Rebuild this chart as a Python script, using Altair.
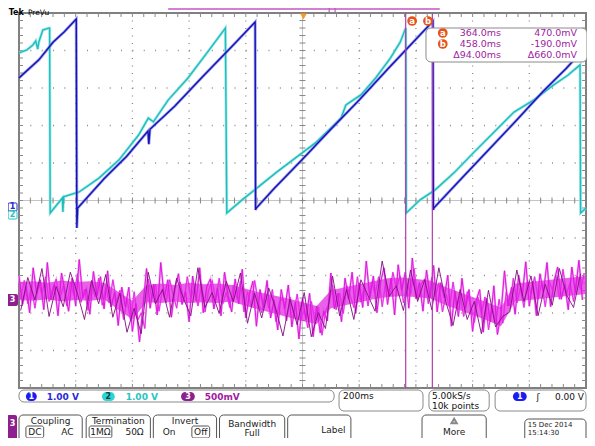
import altair as alt
import numpy as np
import pandas as pd

# ---------------- data ----------------
# time in ms (200 ms/div, trigger at centre); channel 1 & 2 in volts (1 V/div)
ch1_t = [-1000, -930, -880, -840, -798, -796, -793, -700, -620, -545, -542, -538, -450, -350, -250,
         -167, -165.5, -163, -100, 0, 100, 200, 300, 400, 460, 461.5, 463, 550, 650, 750, 850, 930, 1000]
ch1_v = [3.47, 3.95, 4.42, 4.70, 5.04, -0.53, 0.0, 0.78, 1.38, 2.05, 1.70, 2.10, 2.72, 3.52, 4.30,
         4.96, -0.05, 0.0, 0.52, 1.30, 2.10, 2.88, 3.70, 4.50, 4.98, -0.05, 0.0, 0.70, 1.50, 2.30, 3.12, 3.72, 4.30]

ch2_t = [-1000, -972, -951, -941, -934, -930, -916, -895, -892, -890, -847, -845, -843, -788, -718,
         -648, -578, -544, -526, -474, -404, -335, -272, -267, -213, -160, -91, -21, 49, 101,
         136, 153, 206, 258, 310, 345, 364, 366, 415, 467, 537, 606, 676, 746, 815,
         885, 937, 979, 981, 1000]
ch2_v = [4.27, 4.35, 4.48, 4.59, 4.37, 4.56, 4.88, 4.93, 4.93, 0.0, 0.40, 0.03, 0.43, 0.56, 0.93,
         1.41, 2.08, 2.53, 2.43, 3.01, 3.60, 4.29, 4.93, 0.0, 0.35, 0.67, 1.09, 1.49, 1.89, 2.27,
         2.53, 2.88, 3.15, 3.60, 4.13, 4.56, 4.93, 0.0, 0.35, 0.61, 1.09, 1.63, 2.16, 2.69, 3.01,
         3.41, 3.68, 3.95, 0.0, 0.13]

# channel 3 in mV (500 mV/div), samples every 12.5 ms from -1000 ms
ch3a_mv = [320, -60, 180, -170, 430, 80, 270, -130, 500, 0,
           210, -210, 360, 110, -150, 290, -80, 540, 30, 150,
           -190, 380, 60, 310,
           -120, 390, -90, 100, -340, 170, -90, 170, -420, -50, -560, -80,
           420, -110, 210, -200, 500, 30, 270, -230, 150, 350,
           -60, 110, -290, 320, -10, 430, -170, 180, 280, -120,
           160, -210, 370, 60,
           -160, 280, -50, 410, -240, 70, 250, -350, 140, -100,
           260, -240, 0, -400, 140, -120, 200, -360, -30, -520,
           20, -260, 90, -490, -80, -440, -150,
           -280, 360, -120, 90, -290, 290, 10, 370, -180, 230,
           -100, 520, 30, 320, -170, 230, 430,
           -60, 290, -200, 470, 130, 370, -110, 560, 20, 230,
           -150, 400, 30, 460, -160, 230, 30, 330, -350, 120,
           -220, 290, -110, 140, -420, -10, 140, -430, 20, -290, 190, -460, -190,
           390, -80, 170, -190, 330, 50, 510, -80, 250, -210,
           350, 110, 500, -90, 250, 440, 10, 210, -130, 440, 100, 530, 0]
# second bright trace of channel 3, samples every 12.5 ms from -993.75 ms
ch3c_mv = [30, 260, -50, 180, -110, 230, 80, 310, -20, 150,
           280, 0, 190, -80, 240, 60, 350, -30, 140, -140,
           220, 40, 290, -70,
           170, -40, 270, -30, 130, -260,
           10, -270, 110, -270, -170, -380,
           280, 20, 210, -150,
           150, -40, 270, 70, -110, 240, -20, 310, 30, 180,
           -80, 220, -160, 130, 260, 0, 290, -50, 100, -100,
           200, 20, 250, -160, 110, -90, 260, -30, -170, 110,
           -110, 140, -290, -20, 20, -280, 40, -190, 80, -270,
           -130, -370, -20, -280, -90, -470, -150,
           -40, 200, -130,
           90, -180, 190, 50, -100, 310, -30, 190, -80, 240,
           80, 310, -90, 240,
           40, 370, 150, 320, -40, 230,
           80, 420, 10, 210,
           280, -50, 300, 50, 230, -160,
           80, -100, 240, -100, 60, -220, 110, -90, -300, 40,
           -180, 40, -400, -80, -310, 10, -310,
           110, -80, 290,
           -40, 160, -100, 260, 80, 310, 10, 220, -90, 260,
           140, 330, 10, 410, 80, 230, -20, 320, 140, 360]
# darker persistence trace of channel 3, samples every 25 ms from -994 ms
ch3b_mv = [-140, 300, 0, 420, -220, 180, -90, 370, 90, -260,
           260, -50, 340, -230, 90, -430, -110, -450, 370, -50,
           140, -230, 290, 10, -210, 430, -100, 100, -180, 250,
           -20, 360, -310, 90, -240, 160, -120, -480, 10, -330,
           100, -490, -170, -380, 320, -210, 140, -260, 270, 60,
           -150, 520, 50, 190, -140, 400, -20, 270, -130, 430,
           -30, -340, 140, -260, -20, -450, 130, -360, -220, -160,
           400, -20, 320, -210, 210, -70, 420, 70, -100, 350]
# dense core of the channel 3 trace (mV), every 50 ms from -1000 ms
ch3_core_hi = [240, 250, 230, 260, 240, 250, 230, 110, -10, 200, 220, 200, 230, 210, 220, 200, 150, 100,
               60, 20, -30, -80, 130, 170, 210, 250, 290, 300, 280, 260, 180, 110, 40, -30, -100,
               220, 240, 260, 280, 300, 320]
ch3_core_lo = [0, -10, 10, -20, 0, -10, 10, -130, -260, -30, -40, -20, -40, -30, -40, -20, -80, -130,
               -180, -230, -280, -320, -110, -70, -30, 10, 40, 50, 40, 20, -60, -130, -200, -270, -350,
               -20, 0, 20, 40, 60, 80]

cursor_t = [364.0, 458.0]

# channel positions (divisions) and scales
CH1_OFF, CH2_OFF, CH3_OFF = -0.2, -0.333, -2.653
CH3_MV_PER_DIV = 500.0

# ---------------- helpers ----------------
FONT = "DejaVu Sans"
xs = alt.Scale(domain=[-1000, 1000], nice=False, zero=False)
ys = alt.Scale(domain=[-5, 5], nice=False, zero=False)
X = alt.X("t:Q", scale=xs, axis=None)
Y = alt.Y("y:Q", scale=ys, axis=None)


def TX(px):  # reference pixel -> time (ms)
    return (px - 306.0) / 574.0 * 2000.0


def DY(py):  # reference pixel -> divisions
    return (200.5 - py) / 37.5


def segs(rows, color, width=1.0, dash=None, opacity=1.0):
    df = pd.DataFrame(rows, columns=["t", "y", "t2", "y2"])
    kw = dict(color=color, strokeWidth=width, clip=False, opacity=opacity)
    if dash:
        kw["strokeDash"] = dash
    return alt.Chart(df).mark_rule(**kw).encode(x=X, y=Y, x2="t2:Q", y2="y2:Q")


def psegs(rows, color, width=1.0):
    return segs([(TX(a), DY(b), TX(c), DY(d)) for a, b, c, d in rows], color, width)


def boxes(rows, stroke, fill="white", radius=4, width=1.0):
    df = pd.DataFrame([(TX(a), DY(b), TX(c), DY(d)) for a, b, c, d in rows], columns=["t", "y", "t2", "y2"])
    kw = dict(cornerRadius=radius, strokeWidth=width, clip=False)
    if stroke:
        kw["stroke"] = stroke
    if fill:
        kw["fill"] = fill
    else:
        kw["fillOpacity"] = 0
        kw["fill"] = "white"
    return alt.Chart(df).mark_rect(**kw).encode(x=X, x2="t2:Q", y=Y, y2="y2:Q")


def texts(rows, color, size=9, align="left", weight="normal", baseline="middle"):
    df = pd.DataFrame([(TX(a), DY(b), s) for s, a, b in rows], columns=["t", "y", "s"])
    return alt.Chart(df).mark_text(align=align, baseline=baseline, color=color, fontSize=size,
                                   fontWeight=weight, font=FONT, clip=False).encode(x=X, y=Y, text="s:N")


def dots(rows, color, shape="circle", size=80, filled=True):
    df = pd.DataFrame([(TX(a), DY(b)) for a, b in rows], columns=["t", "y"])
    return alt.Chart(df).mark_point(shape=shape, size=size, filled=filled, color=color, opacity=1,
                                    clip=False).encode(x=X, y=Y)


# ---------------- graticule ----------------
vgrid = [(t, 5, t, -5) for t in range(-800, 801, 200)]
hgrid = [(-1000, y, 1000, y) for y in range(-4, 5)]
tick_ms = 4 * 2000 / 567
minor_t = [-1000 + 40 * k for k in range(1, 50)]
minor_y = [-5 + 0.2 * k for k in range(1, 50)]
border_ticks = ([(t, 5, t, 5 - 4 / 37.5) for t in minor_t] + [(t, -5, t, -5 + 4 / 37.5) for t in minor_t] +
                [(-1000, y, -1000 + tick_ms, y) for y in minor_y] + [(1000, y, 1000 - tick_ms, y) for y in minor_y])
centre_ticks = ([(t, -3 / 37.5, t, 3 / 37.5) for t in minor_t] +
                [(-0.75 * tick_ms, y, 0.75 * tick_ms, y) for y in minor_y])
centre_lines = [(0, 5, 0, -5), (-1000, 0, 1000, 0)]

layers = [
    segs(vgrid, "#8c8c8c", 1.3, [1, 6.5]),
    segs(hgrid, "#8c8c8c", 1.3, [1, 10.34]),
    segs(centre_lines, "#c4c4c4", 1),
    segs(centre_ticks, "#8a8a8a", 1),
    segs(border_ticks, "#8a8a8a", 1),
]

# ---------------- waveforms ----------------
def frame(t, vals, scale, off):
    vals = np.asarray(vals, dtype=float)
    return pd.DataFrame({"t": np.asarray(t, dtype=float), "y": vals / scale + off, "i": np.arange(len(vals))})


df3a = frame(-1000 + 12.5 * np.arange(len(ch3a_mv)), ch3a_mv, CH3_MV_PER_DIV, CH3_OFF)
df3c = frame(-993.75 + 12.5 * np.arange(len(ch3c_mv)), ch3c_mv, CH3_MV_PER_DIV, CH3_OFF)
df3b = frame(-994 + 25.0 * np.arange(len(ch3b_mv)), ch3b_mv, CH3_MV_PER_DIV, CH3_OFF)
dfcore = pd.DataFrame({"t": -1000 + 50.0 * np.arange(len(ch3_core_hi)),
                       "y": np.array(ch3_core_hi) / CH3_MV_PER_DIV + CH3_OFF,
                       "y2": np.array(ch3_core_lo) / CH3_MV_PER_DIV + CH3_OFF})
df1 = frame(ch1_t, ch1_v, 1.0, CH1_OFF)
df2 = frame(ch2_t, ch2_v, 1.0, CH2_OFF)
O = alt.Order("i:Q")


def wave(df, color, width, opacity=1.0):
    return alt.Chart(df).mark_line(color=color, strokeWidth=width, opacity=opacity,
                                   strokeJoin="miter").encode(x=X, y=Y, order=O)


layers += [
    wave(df3a, "#f4a2f4", 2.2),
    wave(df3c, "#f2a6f2", 1.8),
    alt.Chart(dfcore).mark_area(color="#e22ce2", opacity=0.75).encode(x=X, y=Y, y2="y2:Q"),
    wave(df3c, "#e82ae8", 1.0),
    wave(df3a, "#de16de", 1.0),
    wave(df3b, "#7d0f7d", 1.0, 0.9),
    wave(df2, "#86e2e2", 3.0, 0.7),
    wave(df2, "#1fbcbc", 1.4),
    wave(df1, "#7b7bf0", 3.0, 0.7),
    wave(df1, "#1414b0", 1.4),
]

# cursors
dfc = pd.DataFrame({"t": cursor_t, "y": [5.0, 5.0], "y2": [-5.0, -5.0]})
layers.append(alt.Chart(dfc).mark_rule(color="#b03cb0", strokeWidth=1.2).encode(x=X, y=Y, y2="y2:Q"))

# ---------------- decorations ----------------
ORANGE = "#e5531a"
PURPLE = "#8e1f8e"
layers += [
    # record bar and trigger marker
    psegs([(170, 9, 445, 9)], "#c455c4", 1.5),
    psegs([(333, 8, 333, 12), (339, 8, 339, 12)], "#c455c4", 1.2),
    dots([(307, 16.5)], "#f39c1f", "triangle-down", 45),
    texts([("Tek", 8.5, 12.8)], "#000000", 8, "left", "bold"),
    texts([("PreVu", 28, 12.8)], "#000000", 7.5),
    # channel ground markers
    boxes([(8, 203, 17, 211)], "#2a2ad0", "white", 1, 1),
    boxes([(8, 211, 17, 219)], "#27c0c0", "white", 1, 1),
    texts([("1", 12.5, 207)], "#2a2ad0", 8, "center", "bold"),
    texts([("2", 12.5, 215)], "#27c0c0", 8, "center", "bold"),
    boxes([(0, 294, 18, 306), (7, 415, 17, 446)], None, PURPLE, 2),
    texts([("3", 12.5, 300), ("3", 12.5, 424)], "white", 8, "center", "bold"),
    # cursor labels and readout
    boxes([(431, 28, 594, 62)], "#8a8a8a", "white", 5, 1),
    dots([(417, 21), (433, 21), (448, 33), (448, 44)], ORANGE, "circle", 95),
    texts([("a", 417, 20.5), ("b", 433, 20.5), ("a", 448, 32.5), ("b", 448, 43.5)], "white", 8.5, "center", "bold"),
    texts([("364.0ms", 507, 33), ("458.0ms", 507, 44), ("Δ94.00ms", 507, 55),
           ("470.0mV", 584, 33), ("-190.0mV", 584, 44), ("Δ660.0mV", 584, 55)], "#a01ca0", 9.5, "right"),
    # status bar
    boxes([(19, 390, 338, 402), (343, 390, 428, 411), (434, 390, 495, 411), (501, 390, 593, 411)],
          "#8a8a8a", "white", 5, 1),
    boxes([(26, 392, 37, 401), (519, 392, 533, 401)], None, "#1c1cf0", 5),
    boxes([(103, 392, 116, 401)], None, "#2cd4d4", 5),
    boxes([(183, 392, 197, 401), (303, 425, 322, 435)], None, PURPLE, 5),
    texts([("1", 31.5, 396.5), ("1", 526, 396.5), ("3", 190, 396.5), ("3", 312.5, 430)], "white", 8, "center", "bold"),
    texts([("2", 109.5, 396.5)], "#0c3c3c", 8, "center", "bold"),
    texts([("1.00 V", 47, 396.5)], "#2a2ad8", 9, "left", "bold"),
    texts([("1.00 V", 127, 396.5)], "#27c4c4", 9, "left", "bold"),
    texts([("500mV", 207, 396.5)], "#a01ca0", 9, "left", "bold"),
    texts([("200ms", 347, 396), ("5.00kS/s", 437, 396), ("10k points", 437, 405.5), ("ʃ", 543, 396.5)],
          "#111111", 9),
    texts([("0.00 V", 591, 396.5)], "#111111", 9, "right"),
    # menu
    boxes([(19, 415, 83, 446), (87, 415, 152, 446), (155, 415, 219, 446), (222, 415, 288, 446),
           (291, 415, 355, 446), (427, 415, 492, 446), (531, 419, 593, 446)], "#555555", "white", 4, 1),
    boxes([(26, 426, 44, 438), (90, 426, 113, 438), (194, 426, 212, 438)], "#555555", None, 2, 1),
    texts([("Coupling", 51, 421), ("DC", 35, 432), ("AC", 68, 432), ("Termination", 119.5, 421),
           ("1MΩ", 101.5, 432), ("50Ω", 136, 432), ("Invert", 187, 421), ("On", 171, 432),
           ("Off", 203, 432), ("Bandwidth", 255, 423.5), ("Full", 255, 432.5), ("More", 459.5, 432)],
          "#222222", 9, "center"),
    texts([("Label", 325, 430)], "#222222", 9),
    texts([("15 Dec 2014", 534, 424.5), ("15:14:30", 534, 433.3)], "#222222", 7),
    dots([(459.5, 421)], "#888888", "triangle-up", 28, False),
]

chart = alt.layer(*layers).properties(
    width=567, height=375,
    autosize=alt.AutoSizeParams(type="none"),
    padding={"left": 11, "top": 5, "right": 1, "bottom": 50},
    background="white",
).configure_view(stroke="#808080", strokeWidth=2)

chart.save("out.html", embed_options={"renderer": "svg", "actions": False})
